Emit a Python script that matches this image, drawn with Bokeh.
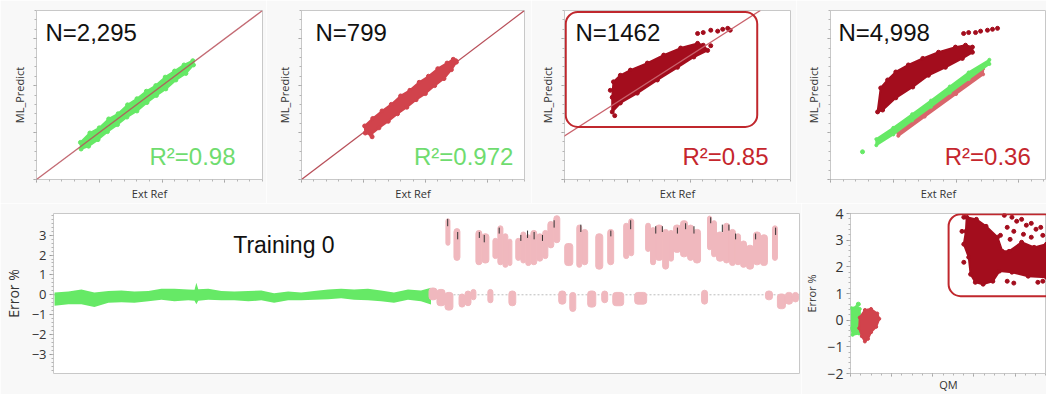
from bokeh.plotting import figure
from bokeh.models import Range1d, FixedTicker, Label, Slope, Span, BoxAnnotation
from bokeh.layouts import column, row
from bokeh.embed import file_html
from bokeh.resources import INLINE

# ---------------- data ----------------
# top panels: Ext Ref (x) vs ML_Predict (y), cloud outlines in axis units
p1_green_x = [7.0, 8.5, 10, 11.5, 13, 14.5, 16, 17.5, 19, 20.5, 22, 23.5, 24.9,
              25.0, 23.8, 22.2, 20.6, 19.1, 17.6, 16.0, 14.4, 12.9, 11.3, 9.8, 8.3, 7.1]
p1_green_y = [7.9, 9.9, 11.0, 12.9, 14.0, 15.9, 17.2, 18.8, 20.0, 21.8, 23.1, 24.4, 25.3,
              24.4, 22.6, 21.2, 19.3, 17.9, 16.4, 14.6, 13.3, 11.7, 10.2, 8.5, 7.1, 6.5]

p2_red_x = [10.2, 11.5, 13, 14.5, 16, 17.5, 19, 20.5, 22, 23.5, 24.5, 25.0,
            24.2, 23, 21.5, 20, 18.5, 17, 15.5, 14, 12.5, 11.2, 10.3]
p2_red_y = [11.4, 13.0, 14.6, 16.0, 17.8, 19.0, 20.7, 22.0, 23.6, 24.8, 25.6, 25.0,
            23.4, 21.5, 20.0, 18.3, 17.0, 15.4, 14.0, 12.4, 11.0, 9.6, 9.9]
p2_out_x = [11.4, 10.6, 24.9]
p2_out_y = [9.1, 10.2, 25.3]

p3_dark_x = [7.6, 7.6, 7.8, 8.9, 10.5, 13.2, 15.8, 18.5, 21.2, 22.1, 22.8,
             20.6, 18.0, 14.8, 11.6, 8.9]
p3_dark_y = [14.4, 17.5, 20.8, 22.2, 23.3, 24.8, 26.5, 28.0, 29.0, 28.6, 27.5,
             26.1, 23.9, 21.2, 18.4, 16.3]
p3_out_x = [21.2, 22.1, 23.3, 24.4, 25.2, 26.0, 26.4, 7.3, 8.0, 23.3]
p3_out_y = [31.1, 31.3, 31.8, 31.6, 32.0, 32.2, 31.8, 19.0, 13.6, 28.5]

p4_dark_x = [7.5, 8.0, 9.1, 10.4, 12.4, 14.7, 17.2, 19.9, 21.5, 22.6, 22.6,
             21.0, 18.3, 15.6, 13.1, 10.4, 8.3]
p4_dark_y = [14.4, 19.5, 21.2, 22.9, 24.4, 25.8, 27.1, 28.2, 28.6, 28.2, 27.1,
             25.8, 23.9, 22.2, 19.7, 17.4, 14.8]
p4_out_x = [21.2, 22.0, 23.1, 23.9, 25.0, 25.8, 26.6]
p4_out_y = [31.1, 31.3, 31.3, 31.6, 31.8, 32.0, 32.2]
p4_green_x = [7.3, 10, 13, 16, 19, 22, 25.3, 25.3, 22, 19, 16, 13, 10, 7.3]
p4_green_y = [8.6, 11.0, 13.9, 16.8, 19.8, 22.8, 25.5, 24.6, 21.4, 18.5, 15.5, 12.6, 9.6, 7.3]
p4_green_out_x = [5.1]
p4_green_out_y = [5.9]
p4_red_x = [10.5, 24.3, 24.3, 20, 15, 10.8]
p4_red_y = [10.4, 23.6, 22.4, 18.2, 13.4, 9.3]

panel_n = ["N=2,295", "N=799", "N=1462", "N=4,998"]
panel_r2 = ["R\u00b2=0.98", "R\u00b2=0.972", "R\u00b2=0.85", "R\u00b2=0.36"]

# bottom-left: Error % by row index
g_idx = [7, 100, 187, 274, 368, 455, 542, 636, 723, 810, 903, 945, 957, 970, 1037, 1124,
         1211, 1305, 1392, 1478, 1572, 1659, 1746, 1840, 1927, 2014, 2107, 2194, 2281,
         2375, 2462, 2529]
g_hi = [0.12, 0.16, 0.27, 0.12, 0.19, 0.22, 0.16, 0.19, 0.30, 0.31, 0.27, 0.25, 0.61, 0.28,
        0.31, 0.19, 0.16, 0.19, 0.22, 0.08, 0.16, 0.12, 0.19, 0.27, 0.30, 0.27, 0.31,
        0.22, 0.12, 0.27, 0.22, 0.36]
g_lo = [-0.55, -0.48, -0.48, -0.62, -0.40, -0.37, -0.40, -0.33, -0.25, -0.33, -0.28,
        -0.30, -0.48, -0.30, -0.25, -0.28, -0.28, -0.33, -0.28, -0.40, -0.28, -0.28,
        -0.25, -0.22, -0.18, -0.25, -0.28, -0.33, -0.40, -0.25, -0.33, -0.49]

pu_left = [2629, 2683, 2830, 2870, 2944, 2977, 3011, 3044, 3097, 3131, 3164, 3198, 3238,
           3278, 3312, 3352, 3425, 3506, 3539, 3633, 3713, 3820, 3854, 3967, 4000, 4034,
           4081, 4121, 4154, 4201, 4248, 4288, 4382, 4409, 4442, 4489, 4529, 4569, 4603,
           4643, 4690, 4737, 4817]
pu_right = [2656, 2723, 2870, 2917, 2977, 3011, 3044, 3071, 3131, 3164, 3198, 3238, 3278,
            3312, 3352, 3392, 3479, 3539, 3579, 3680, 3753, 3854, 3887, 4000, 4034, 4081,
            4121, 4154, 4201, 4248, 4288, 4335, 4409, 4442, 4489, 4529, 4569, 4603, 4643,
            4690, 4737, 4783, 4850]
pu_top = [3.82, 3.33, 3.24, 3.07, 2.84, 3.47, 3.07, 2.80, 2.84, 3.16, 3.02, 3.24, 3.07,
          3.24, 3.69, 3.98, 2.58, 3.51, 3.29, 3.07, 3.29, 3.60, 3.82, 3.60, 3.38, 3.51,
          3.29, 3.24, 3.51, 3.73, 3.51, 3.29, 3.96, 3.73, 3.16, 3.60, 3.29, 3.07, 2.71,
          2.49, 3.16, 3.02, 3.47]
pu_bot = [2.49, 1.73, 1.51, 1.60, 1.82, 1.51, 1.38, 1.47, 1.73, 1.60, 1.47, 1.51, 1.69,
          1.82, 2.36, 2.62, 1.47, 1.38, 1.51, 1.29, 1.51, 1.82, 1.96, 2.18, 1.51, 1.73,
          1.29, 1.69, 2.13, 1.91, 1.73, 1.60, 2.27, 1.91, 1.69, 1.60, 1.47, 1.51, 1.38,
          1.29, 1.51, 1.47, 1.73]

pl_left = [2516, 2569, 2623, 2717, 2757, 2797, 2910, 3051, 3385, 3459, 3579, 3673, 3747,
           3894, 4342, 4770, 4850, 4904, 4951]
pl_right = [2569, 2623, 2676, 2757, 2797, 2830, 2944, 3097, 3432, 3499, 3633, 3713, 3820,
            3974, 4382, 4817, 4904, 4951, 4991]
pl_top = [0.34, 0.27, 0.12, 0.04, 0.19, 0.27, 0.27, 0.19, 0.19, 0.12, 0.19, 0.19, 0.12,
          0.12, 0.23, 0.19, 0.04, 0.12, 0.12]
pl_bot = [-0.25, -0.55, -0.77, -0.62, -0.55, -0.25, -0.40, -0.55, -0.47, -0.84, -0.62,
          -0.40, -0.55, -0.47, -0.47, -0.25, -0.70, -0.47, -0.36]

e_idx = [2641, 2708, 2853, 2886, 2986, 3131, 3176, 3220, 3276, 3354, 3533, 3734, 3867,
         4035, 4079, 4180, 4235, 4291, 4403, 4481, 4525, 4570, 4704, 4838]
e_hi = [3.82, 3.16, 3.16, 3.01, 3.38, 3.01, 3.23, 3.16, 3.01, 3.75, 3.53, 3.23, 3.75,
        3.45, 3.45, 3.38, 3.60, 3.45, 3.90, 3.53, 3.53, 3.08, 3.08, 3.38]
e_lo = [3.45, 2.79, 2.86, 2.64, 3.08, 2.71, 2.86, 2.79, 2.71, 3.38, 3.16, 2.94, 3.30,
        3.08, 3.16, 3.08, 3.30, 3.08, 3.60, 3.16, 3.23, 2.79, 2.79, 3.01]

# bottom-right: Error % vs QM
br_green_x = [0.05, 0.3, 0.45, 0.48, 0.42, 0.1, 0.05]
br_green_y = [0.45, 0.5, 0.42, -0.3, -0.5, -0.55, -0.3]
br_green_out_x = [0.38]
br_green_out_y = [0.6]
br_red_x = [0.45, 0.7, 1.0, 1.3, 1.4, 1.25, 1.0, 0.85, 0.7, 0.55, 0.42]
br_red_y = [0.1, 0.38, 0.42, 0.25, 0.05, -0.25, -0.45, -0.7, -0.8, -0.6, -0.3]
br_dark_x = [5.65, 6.12, 6.59, 7.15, 7.38, 7.71, 8.32, 8.93, 9.53, 9.53, 8.64, 7.85,
             7.24, 6.92, 6.45, 6.07, 5.84, 5.75, 5.51, 5.61]
br_dark_y = [3.86, 3.78, 3.52, 3.11, 2.58, 2.58, 2.92, 2.73, 2.85, 1.61, 1.65, 1.80,
             1.84, 1.46, 1.35, 1.42, 1.72, 2.36, 2.85, 3.33]
br_out_x = [7.48, 7.85, 8.08, 8.32, 8.55, 8.79, 9.02, 9.25, 7.62, 7.94, 8.41, 8.79, 7.29,
            7.76, 9.35, 7.62, 7.94, 9.11, 9.35, 5.42, 5.51, 5.51]
br_out_y = [3.93, 3.86, 3.71, 3.78, 3.56, 3.63, 3.41, 3.48, 3.48, 3.33, 3.22, 3.11, 3.18,
            3.03, 3.18, 1.46, 1.39, 1.42, 1.46, 3.33, 2.17, 3.86]

# ---------------- styles ----------------
GREEN = "#66e966"
RED = "#d1434c"
DARK = "#a30d1d"
PINK = "#f0b8be"
TXT_GREEN = "#6fdc6f"
TXT_RED = "#c5262d"
BOX = "#c0272d"
DIAG = "#b8505a"
AXIS_FONT = "Open Sans"
BIG_FONT = "Liberation Sans"


def style(p):
    p.background_fill_color = "white"
    p.border_fill_color = "#f8f8f8"
    p.outline_line_color = "#c8c8c8"
    p.xgrid.visible = False
    p.ygrid.visible = False
    for ax in p.axis:
        ax.axis_line_color = None
        ax.major_tick_line_color = "#9a9a9a"
        ax.minor_tick_line_color = "#b5b5b5"
        ax.major_tick_in = 0
        ax.major_tick_out = 4
        ax.minor_tick_in = 0
        ax.minor_tick_out = 2
        ax.axis_label_text_font = AXIS_FONT
        ax.axis_label_text_font_style = "normal"
        ax.axis_label_text_color = "#333333"
        ax.major_label_text_font = AXIS_FONT
        ax.major_label_text_color = "#333333"


def hide_labels(ax):
    ax.major_label_text_color = None
    ax.major_label_text_font_size = "1px"
    ax.major_label_standoff = 0


def top_fig(width, left, right, xmax):
    p = figure(width=width, height=203, x_range=Range1d(0, xmax), y_range=Range1d(0, 36),
               output_backend="svg", toolbar_location=None,
               min_border_left=left, min_border_right=right,
               min_border_top=10, min_border_bottom=23)
    style(p)
    p.xaxis.ticker = FixedTicker(ticks=[0, 10, 20, 30], minor_ticks=list(range(0, 37, 2)))
    p.yaxis.ticker = FixedTicker(ticks=[0, 10, 20, 30], minor_ticks=list(range(0, 37, 2)))
    for ax in p.axis:
        hide_labels(ax)
        ax.axis_label_text_font_size = "11px"
        ax.major_tick_out = 3
    p.xaxis.axis_label = "Ext Ref"
    p.yaxis.axis_label = "ML_Predict"
    p.xaxis.axis_label_standoff = 3
    p.yaxis.axis_label_standoff = 7
    return p


def big_text(p, x, y, text, color, align="left"):
    p.add_layout(Label(x=x, y=y, text=text, text_font=BIG_FONT, text_font_size="24px",
                       text_color=color, text_align=align, text_baseline="alphabetic"))


def cloud(p, xs, ys, color, size=4):
    p.patch(xs, ys, fill_color=color, line_color=color, line_width=2)
    p.scatter(xs, ys, size=size, color=color)


def rounded_box(p, left, right, bottom, top):
    p.add_layout(BoxAnnotation(left=left, right=right, bottom=bottom, top=top,
                               fill_color=None, line_color=BOX, line_alpha=1.0,
                               line_width=2, border_radius=12))


# panel 1
p1 = top_fig(266, 36, 4, 36)
cloud(p1, p1_green_x, p1_green_y, GREEN)
p1.add_layout(Slope(gradient=1, y_intercept=0, line_color=DIAG, line_width=1.3, line_alpha=0.85))
big_text(p1, 1.43, 31.3, panel_n[0], "#111111")
big_text(p1, 31.7, 4.87, panel_r2[0], TXT_GREEN, "right")

# panel 2
p2 = top_fig(265, 35, 7, 36)
p2.add_layout(Slope(gradient=1, y_intercept=0, line_color=DIAG, line_width=1.3, level="underlay"))
cloud(p2, p2_red_x, p2_red_y, RED)
p2.scatter(p2_out_x, p2_out_y, size=4, color=RED)
big_text(p2, 2.26, 31.3, panel_n[1], "#111111")
big_text(p2, 34.2, 4.87, panel_r2[1], TXT_GREEN, "right")

# panel 3
p3 = top_fig(265, 33, 6, 36)
cloud(p3, p3_dark_x, p3_dark_y, DARK)
p3.scatter(p3_out_x, p3_out_y, size=4, color=DARK)
p3.add_layout(Slope(gradient=0.856, y_intercept=9.3, line_color="#c9626c", line_width=1.3))
rounded_box(p3, 0.2, 30.7, 11.2, 35.7)
big_text(p3, 1.75, 31.3, panel_n[2], "#111111")
big_text(p3, 32.5, 4.87, panel_r2[2], TXT_RED, "right")

# panel 4
p4 = top_fig(250, 34, 0, 34.4)
cloud(p4, p4_dark_x, p4_dark_y, DARK)
p4.scatter(p4_out_x, p4_out_y, size=4, color=DARK)
cloud(p4, p4_red_x, p4_red_y, "#d9666c", size=3)
cloud(p4, p4_green_x, p4_green_y, GREEN, size=3)
p4.scatter(p4_green_out_x, p4_green_out_y, size=4, color=GREEN)
big_text(p4, 1.27, 31.3, panel_n[3], "#111111")
big_text(p4, 31.9, 4.87, panel_r2[3], TXT_RED, "right")

# bottom-left: error by index
p5 = figure(width=801, height=191, x_range=Range1d(0, 4998), y_range=Range1d(-3.96, 4.09),
            output_backend="svg", toolbar_location=None, x_axis_location=None,
            min_border_left=52, min_border_right=2, min_border_top=6, min_border_bottom=4)
style(p5)
p5.yaxis.ticker = FixedTicker(ticks=[-3, -2, -1, 0, 1, 2, 3],
                              minor_ticks=[round(-3.8 + 0.2 * i, 1) for i in range(40)])
p5.yaxis.axis_label = "Error %"
p5.yaxis.axis_label_text_font_size = "14px"
p5.yaxis.major_label_text_font_size = "13px"
p5.yaxis.major_label_standoff = 3
p5.yaxis.axis_label_standoff = 6
p5.add_layout(Span(location=0, dimension="width", line_color="#bdbdbd", line_dash="2 2",
                   line_width=1, level="underlay"))
p5.varea(x=g_idx, y1=g_lo, y2=g_hi, color=GREEN)
p5.quad(left=pl_left, right=pl_right, top=pl_top, bottom=pl_bot, color=PINK, border_radius=3)
p5.quad(left=pu_left, right=pu_right, top=pu_top, bottom=pu_bot, color=PINK, border_radius=3)
p5.segment(x0=e_idx, y0=e_lo, x1=e_idx, y1=e_hi, line_color="#333333", line_width=1)
p5.add_layout(Label(x=1204, y=1.87, text="Training 0", text_font=BIG_FONT,
                    text_font_size="23px", text_color="#111111"))

# bottom-right: error vs QM
p6 = figure(width=245, height=191, x_range=Range1d(0, 9.53), y_range=Range1d(-2, 4),
            output_backend="svg", toolbar_location=None,
            min_border_left=41, min_border_right=0, min_border_top=10, min_border_bottom=18)
style(p6)
p6.xaxis.ticker = FixedTicker(ticks=[0, 2, 4, 6, 8],
                              minor_ticks=[0.5 * i for i in range(20)])
p6.yaxis.ticker = FixedTicker(ticks=[-2, -1, 0, 1, 2, 3, 4],
                              minor_ticks=[round(-2 + 0.2 * i, 1) for i in range(31)])
hide_labels(p6.xaxis[0])
p6.xaxis.major_tick_out = 3
p6.xaxis.axis_label = "QM"
p6.xaxis.axis_label_text_font_size = "11px"
p6.xaxis.axis_label_standoff = 0
p6.yaxis.axis_label = "Error %"
p6.yaxis.axis_label_text_font_size = "11px"
p6.yaxis.major_label_text_font_size = "14px"
p6.yaxis.major_label_standoff = 3
p6.yaxis.axis_label_standoff = 5
cloud(p6, br_green_x, br_green_y, GREEN, size=3)
p6.scatter(br_green_out_x, br_green_out_y, size=4, color=GREEN)
cloud(p6, br_red_x, br_red_y, RED, size=3)
cloud(p6, br_dark_x, br_dark_y, DARK, size=4)
p6.scatter(br_out_x, br_out_y, size=4, color=DARK)
rounded_box(p6, 4.77, 10.5, 0.9, 3.97)

layout = column(row(p1, p2, p3, p4), row(p5, p6))
open("out.html", "w").write(file_html(layout, INLINE, title="Error plots"))
